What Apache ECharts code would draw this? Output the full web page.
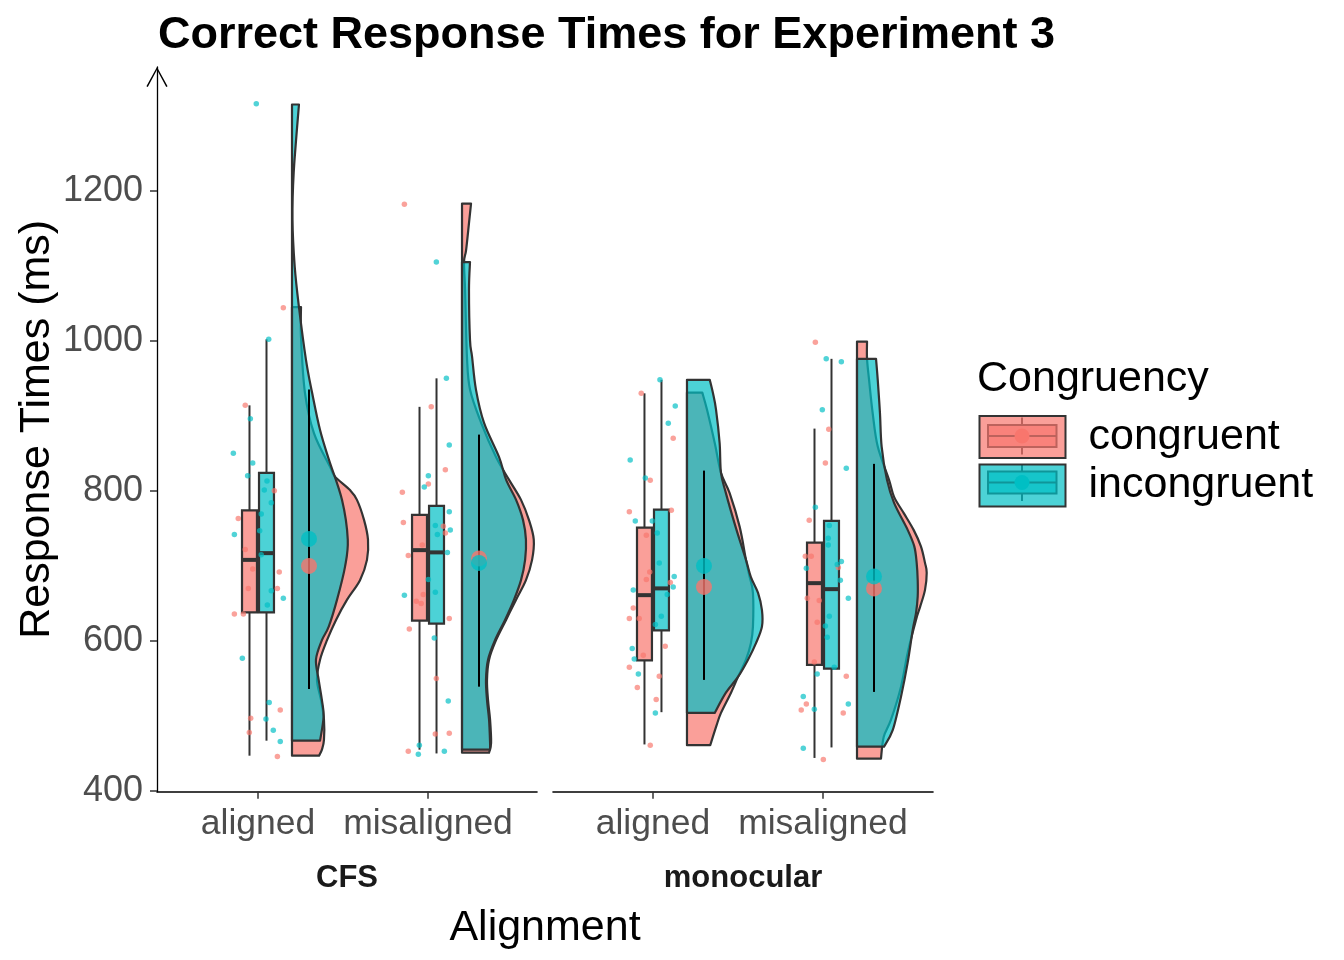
<!DOCTYPE html>
<html><head><meta charset="utf-8">
<script src="https://cdn.jsdelivr.net/npm/echarts@6/dist/echarts.min.js"></script>
<style>html,body{margin:0;padding:0;background:#fff}#c{width:1344px;height:960px}</style>
</head><body><div id="c"></div>
<script>
// ---------------- data ----------------
const facets = ['CFS', 'monocular'];
const alignments = ['aligned', 'misaligned'];
const conditions = ['congruent', 'incongruent'];
const yTicks = [400, 600, 800, 1000, 1200];
// groups: CFS-aligned, CFS-misaligned, monocular-aligned, monocular-misaligned
const groupFacet = [0, 0, 1, 1];
const groupAlign = [1, 2, 1, 2];

// box stats [lower whisker, q1, median, q3, upper whisker]
const congruentBox = [[447, 638, 708, 774, 914], [455, 627, 721, 768, 912], [462, 574, 661, 751, 930], [444, 568, 677, 731, 883]];
const incongruentBox = [[467, 638, 717, 824, 1002], [450, 623, 718, 780, 950], [505, 614, 670, 775, 948], [458, 563, 669, 760, 976]];

const congruentMean = [700, 710, 672, 670];
const incongruentMean = [736, 704, 700, 686];
const rangeLow = [536, 539, 548, 532];
const rangeHigh = [935, 875, 827, 836];

// half-violin density profiles [value, density width in x units]
const congruentViolin = [
  [[1045,0.053],[1005,0.053],[931,0.076],[877,0.129],[832,0.224],[819,0.253],[801,0.341],[788,0.382],[761,0.424],[735,0.447],[708,0.441],[681,0.4],[655,0.324],[628,0.259],[601,0.206],[575,0.165],[548,0.147],[521,0.171],[495,0.188],[468,0.188],[455,0.176],[447,0.159]],
  [[1183,0.053],[1157,0.041],[1121,0.024],[1105,0.012],[1068,0.018],[979,0.029],[935,0.047],[891,0.112],[845,0.2],[815,0.276],[788,0.347],[761,0.394],[735,0.422],[708,0.412],[681,0.376],[655,0.318],[628,0.259],[601,0.2],[575,0.159],[548,0.147],[521,0.153],[495,0.165],[464,0.171],[451,0.159]],
  [[931,0.09],[908,0.118],[864,0.163],[824,0.2],[797,0.251],[752,0.31],[708,0.347],[685,0.369],[664,0.388],[619,0.388],[597,0.376],[575,0.347],[552,0.3],[531,0.259],[504,0.2],[486,0.172],[461,0.137]],
  [[999,0.059],[976,0.059],[948,0.071],[904,0.092],[859,0.122],[815,0.188],[792,0.218],[770,0.276],[748,0.333],[726,0.376],[704,0.4],[691,0.41],[668,0.4],[646,0.372],[628,0.347],[584,0.298],[539,0.259],[495,0.2],[472,0.157],[443,0.141]]
];
const incongruentViolin = [
  [[1315,0.041],[1224,0.01],[1161,0.003],[1099,0.016],[1045,0.041],[975,0.082],[931,0.118],[881,0.165],[841,0.218],[788,0.294],[735,0.328],[699,0.312],[655,0.265],[619,0.216],[601,0.176],[575,0.141],[548,0.157],[521,0.176],[499,0.186],[467,0.165]],
  [[1105,0.047],[1068,0.041],[1001,0.047],[979,0.059],[935,0.082],[891,0.129],[845,0.218],[815,0.259],[788,0.318],[761,0.359],[735,0.376],[708,0.371],[681,0.347],[655,0.306],[628,0.253],[601,0.194],[575,0.153],[548,0.141],[521,0.147],[495,0.159],[464,0.165],[455,0.165]],
  [[948,0.134],[930,0.153],[908,0.171],[864,0.192],[824,0.2],[797,0.229],[752,0.286],[708,0.347],[685,0.376],[664,0.418],[641,0.441],[619,0.441],[597,0.406],[575,0.359],[552,0.3],[531,0.229],[504,0.163]],
  [[976,0.112],[948,0.122],[904,0.135],[859,0.145],[815,0.176],[784,0.218],[748,0.298],[726,0.337],[704,0.351],[681,0.357],[659,0.357],[637,0.347],[615,0.328],[571,0.298],[526,0.259],[481,0.21],[459,0.159]]
];

// jittered raw points [x offset from category, value]
const congruentPoints = [
  [[0.149,1044],[-0.075,914],[0.096,800],[-0.116,763],[-0.075,722],[-0.031,696],[0.125,692],[-0.057,670],[0.114,670],[-0.139,636],[-0.086,636],[0.131,508],[-0.043,497],[-0.051,478],[0.114,446]],
  [[-0.139,1182],[0.019,912],[0.102,828],[0.002,809],[-0.151,798],[-0.145,758],[0.09,753],[0.102,744],[-0.034,728],[-0.116,714],[-0.028,662],[-0.069,653],[-0.04,650],[0.125,630],[-0.11,616],[0.049,550],[0.043,476],[0.125,477],[-0.116,453]],
  [[-0.069,930],[0.119,870],[-0.016,814],[-0.139,772],[0.108,774],[-0.039,741],[-0.019,692],[-0.039,682],[0.102,678],[-0.116,644],[-0.139,630],[-0.081,630],[0.072,593],[-0.057,581],[-0.139,565],[0.037,553],[-0.092,538],[0.019,522],[-0.016,461]],
  [[-0.045,998],[0.034,882],[0.014,837],[-0.081,761],[-0.104,713],[-0.069,713],[0.09,698],[-0.092,657],[-0.022,654],[-0.034,625],[-0.051,572],[0.137,553],[-0.098,516],[-0.128,508],[0.119,504],[0.002,442]]
];
const incongruentPoints = [
  [[-0.01,1316],[0.063,1002],[-0.045,896],[-0.145,850],[-0.031,837],[-0.061,820],[0.053,813],[0.037,801],[0.078,784],[0.019,769],[0.01,747],[-0.139,742],[0.019,715],[0.078,667],[0.149,657],[0.055,648],[-0.092,577],[0.066,518],[0.047,496],[0.09,481],[0.131,466]],
  [[0.049,1105],[0.108,950],[0.125,861],[0.002,820],[-0.022,805],[0.125,772],[0.043,754],[0.131,748],[0.055,742],[0.114,718],[0.002,682],[-0.139,661],[0.043,665],[0.037,604],[0.119,520],[-0.051,461],[-0.057,449],[0.096,453]],
  [[0.041,948],[0.131,913],[0.09,890],[-0.134,841],[-0.045,817],[-0.104,760],[-0.004,760],[0.025,744],[0.037,704],[0.125,686],[0.119,672],[-0.116,668],[0.084,662],[0.049,633],[0.014,622],[-0.122,590],[-0.11,576],[-0.086,556],[0.014,504]],
  [[0.019,976],[0.108,972],[-0.004,908],[0.137,830],[-0.045,778],[0.037,754],[0.031,737],[0.031,728],[0.108,706],[-0.098,697],[0.084,702],[0.102,681],[0.149,657],[0.037,633],[0.014,620],[0.025,605],[0.066,565],[-0.034,556],[-0.116,526],[-0.051,509],[0.149,516],[-0.116,457]]
];

// ---------------- style ----------------
const FONT = "'Liberation Sans', Arial, Helvetica, sans-serif";
const RED = '#F8766D', TEAL = '#00BFC4';
const RED_A = 'rgba(248,118,109,0.7)', TEAL_A = 'rgba(0,191,196,0.7)';
const RED_P = 'rgba(248,118,109,0.85)', TEAL_P = 'rgba(0,191,196,0.85)';
const OUT = '#333333';
const violinNudge = 0.2, meanNudge = 0.3, boxHalf = 0.044;
const boxOffset = [-0.05, 0.05];

function facetData(fi, fn) {
  const out = [];
  groupFacet.forEach((f, gi) => { if (f === fi) out.push(fn(gi, groupAlign[gi])); });
  return out;
}

function smoothPath(pts) {
  // Catmull-Rom through pts -> cubic bezier commands (rendering only)
  let d = '';
  for (let i = 0; i < pts.length - 1; i++) {
    const p0 = pts[Math.max(0, i - 1)], p1 = pts[i], p2 = pts[i + 1], p3 = pts[Math.min(pts.length - 1, i + 2)];
    const c1 = [p1[0] + (p2[0] - p0[0]) / 6, p1[1] + (p2[1] - p0[1]) / 6];
    const c2 = [p2[0] - (p3[0] - p1[0]) / 6, p2[1] - (p3[1] - p1[1]) / 6];
    d += ` C${c1[0]},${c1[1]} ${c2[0]},${c2[1]} ${p2[0]},${p2[1]}`;
  }
  return d;
}

function violinRender(profiles, fill) {
  return function (params, api) {
    const xc = api.value(0), gi = api.value(2);
    const prof = profiles[gi];
    const base = xc + violinNudge;
    const top = api.coord([base, prof[0][0]]);
    const bot = api.coord([base, prof[prof.length - 1][0]]);
    const pts = prof.map(p => api.coord([base + p[1], p[0]]));
    const d = `M${top[0]},${top[1]} L${pts[0][0]},${pts[0][1]}` + smoothPath(pts) + ` L${bot[0]},${bot[1]} Z`;
    return { type: 'path', shape: { pathData: d }, style: { fill: fill, stroke: OUT, lineWidth: 2.2, lineJoin: 'round' } };
  };
}

function boxRender(stats, off, fill) {
  return function (params, api) {
    const xc = api.value(0), gi = api.value(2);
    const s = stats[gi];
    const cx = xc + off;
    const pLo = api.coord([cx, s[0]]), pQ1 = api.coord([cx, s[1]]), pQ3 = api.coord([cx, s[3]]), pHi = api.coord([cx, s[4]]);
    const a = api.coord([cx - boxHalf, s[3]]), b = api.coord([cx + boxHalf, s[1]]);
    const m = api.coord([cx - boxHalf, s[2]]), n = api.coord([cx + boxHalf, s[2]]);
    return { type: 'group', children: [
      { type: 'line', shape: { x1: pLo[0], y1: pLo[1], x2: pQ1[0], y2: pQ1[1] }, style: { stroke: OUT, lineWidth: 2 } },
      { type: 'line', shape: { x1: pQ3[0], y1: pQ3[1], x2: pHi[0], y2: pHi[1] }, style: { stroke: OUT, lineWidth: 2 } },
      { type: 'rect', shape: { x: a[0], y: a[1], width: b[0] - a[0], height: b[1] - a[1] }, style: { fill: fill, stroke: OUT, lineWidth: 2.2 } },
      { type: 'line', shape: { x1: m[0], y1: m[1], x2: n[0], y2: n[1] }, style: { stroke: OUT, lineWidth: 4 } }
    ] };
  };
}

function rangeRender(params, api) {
  const x = api.value(0) + meanNudge;
  const p1 = api.coord([x, api.value(1)]), p2 = api.coord([x, api.value(2)]);
  return { type: 'line', shape: { x1: p1[0], y1: p1[1], x2: p2[0], y2: p2[1] }, style: { stroke: '#000', lineWidth: 2 } };
}

const series = [];
[0, 1].forEach(fi => {
  const ax = { xAxisIndex: fi, yAxisIndex: fi };
  series.push(Object.assign({ type: 'custom', name: 'congruent', renderItem: violinRender(congruentViolin, RED_A), itemStyle: { color: RED_A },
    data: facetData(fi, (gi, xc) => [xc, congruentMean[gi], gi]), encode: { x: 0, y: 1 }, z: 2 }, ax));
  series.push(Object.assign({ type: 'custom', name: 'incongruent', renderItem: violinRender(incongruentViolin, TEAL_A), itemStyle: { color: TEAL_A },
    data: facetData(fi, (gi, xc) => [xc, incongruentMean[gi], gi]), encode: { x: 0, y: 1 }, z: 2 }, ax));
  series.push(Object.assign({ type: 'custom', name: 'congruent', renderItem: boxRender(congruentBox, boxOffset[0], RED_A), itemStyle: { color: RED_A },
    data: facetData(fi, (gi, xc) => [xc, congruentBox[gi][2], gi]), encode: { x: 0, y: 1 }, z: 3 }, ax));
  series.push(Object.assign({ type: 'custom', name: 'incongruent', renderItem: boxRender(incongruentBox, boxOffset[1], TEAL_A), itemStyle: { color: TEAL_A },
    data: facetData(fi, (gi, xc) => [xc, incongruentBox[gi][2], gi]), encode: { x: 0, y: 1 }, z: 3 }, ax));
  series.push(Object.assign({ type: 'scatter', name: 'congruent', symbol: 'circle', symbolSize: 5.5, itemStyle: { color: RED_P }, z: 4,
    data: [].concat(...facetData(fi, (gi, xc) => congruentPoints[gi].map(p => [xc + p[0], p[1]]))) }, ax));
  series.push(Object.assign({ type: 'scatter', name: 'incongruent', symbol: 'circle', symbolSize: 5.5, itemStyle: { color: TEAL_P }, z: 4,
    data: [].concat(...facetData(fi, (gi, xc) => incongruentPoints[gi].map(p => [xc + p[0], p[1]]))) }, ax));
  series.push(Object.assign({ type: 'custom', name: 'range', renderItem: rangeRender,
    data: facetData(fi, (gi, xc) => [xc, rangeLow[gi], rangeHigh[gi]]), encode: { x: 0, y: [1, 2] }, z: 5 }, ax));
  series.push(Object.assign({ type: 'scatter', name: 'congruent', symbol: 'circle', symbolSize: 16, itemStyle: { color: RED }, z: 6,
    data: facetData(fi, (gi, xc) => [xc + meanNudge, congruentMean[gi]]) }, ax));
  series.push(Object.assign({ type: 'scatter', name: 'incongruent', symbol: 'circle', symbolSize: 16, itemStyle: { color: TEAL }, z: 7,
    data: facetData(fi, (gi, xc) => [xc + meanNudge, incongruentMean[gi]]) }, ax));
});

const xMins = [0.406, 0.412];
const xAxis = [0, 1].map(fi => ({
  gridIndex: fi, type: 'value', min: xMins[fi], max: xMins[fi] + 2.235,
  splitLine: { show: false },
  axisLine: { show: true, onZero: false, lineStyle: { color: '#000', width: 1.6 } },
  axisTick: { show: true, customValues: [1, 2], length: 7, lineStyle: { color: OUT, width: 1.5 } },
  axisLabel: { customValues: [1, 2], formatter: v => alignments[Math.round(v) - 1], fontSize: 35.5, color: '#4D4D4D', margin: 15, fontFamily: FONT },
  name: facets[fi], nameLocation: 'middle', nameGap: 71.5,
  nameTextStyle: { fontSize: 31, fontWeight: 'bold', color: '#1A1A1A', fontFamily: FONT, lineHeight: 31 }
}));

const yAxis = [
  { gridIndex: 0, type: 'value', min: 399, max: 1365, splitLine: { show: false },
    axisLine: { show: true, onZero: false, lineStyle: { color: '#000', width: 1.3 },
      symbol: ['none', 'path://M0,20 L11,0 L22,20 L20.6,20.8 L11,2.8 L1.4,20.8 Z'], symbolSize: [22, 20], symbolOffset: [0, -10] },
    axisTick: { show: true, customValues: yTicks, length: 7, lineStyle: { color: OUT, width: 1.5 } },
    axisLabel: { customValues: yTicks, formatter: v => String(v), fontSize: 36, color: '#4D4D4D', margin: 14, fontFamily: FONT },
    name: 'Response Times (ms)', nameLocation: 'middle', nameGap: 97, nameRotate: 90,
    nameTextStyle: { fontSize: 43, color: '#000', fontFamily: FONT, lineHeight: 43 } },
  { gridIndex: 1, type: 'value', min: 399, max: 1365, show: false }
];

function legendGlyph(top, fill, dot) {
  const cy = top + 21, cx = 1022;
  return { type: 'group', silent: true, children: [
    { type: 'line', shape: { x1: cx, y1: cy - 18.5, x2: cx, y2: cy - 11 }, style: { stroke: OUT, lineWidth: 2 } },
    { type: 'line', shape: { x1: cx, y1: cy + 11, x2: cx, y2: cy + 18.5 }, style: { stroke: OUT, lineWidth: 2 } },
    { type: 'rect', shape: { x: 988, y: cy - 11, width: 68.5, height: 22 }, style: { fill: fill, stroke: OUT, lineWidth: 2 } },
    { type: 'line', shape: { x1: 988, y1: cy, x2: 1056.5, y2: cy }, style: { stroke: OUT, lineWidth: 2 } },
    { type: 'circle', shape: { cx: cx, cy: cy, r: 7.5 }, style: { fill: dot } }
  ] };
}

const option = {
  animation: false,
  backgroundColor: '#fff',
  textStyle: { fontFamily: FONT },
  title: [
    { text: 'Correct Response Times for Experiment 3', left: 158, top: 13, padding: 0,
      textStyle: { fontSize: 45, fontWeight: 'bold', color: '#000', fontFamily: FONT, lineHeight: 45 } },
    { text: 'Congruency', left: 977, top: 358, padding: 0,
      textStyle: { fontSize: 43, fontWeight: 'normal', color: '#000', fontFamily: FONT, lineHeight: 43 } }
  ],
  grid: [
    { left: 157, top: 67, width: 380, height: 724.7, outerBoundsMode: 'none' },
    { left: 553, top: 67, width: 380, height: 724.7, outerBoundsMode: 'none' }
  ],
  xAxis: xAxis,
  yAxis: yAxis,
  legend: {
    orient: 'vertical', left: 978.5, top: 415, padding: 0, itemWidth: 86, itemHeight: 42, itemGap: 4.5,
    icon: 'rect', selectedMode: false,
    itemStyle: { borderColor: OUT, borderWidth: 2 },
    textStyle: { fontSize: 43, color: '#000', fontFamily: FONT, lineHeight: 40, padding: [0, 0, 0, 18] },
    data: [
      { name: conditions[0], itemStyle: { color: RED_A, borderColor: OUT, borderWidth: 2 } },
      { name: conditions[1], itemStyle: { color: TEAL_A, borderColor: OUT, borderWidth: 2 } }
    ]
  },
  graphic: [
    { type: 'text', x: 545, y: 928, silent: true,
      style: { text: 'Alignment', fontSize: 43, fontFamily: FONT, fill: '#000', align: 'center', verticalAlign: 'middle', textAlign: 'center', textVerticalAlign: 'middle' } },
    legendGlyph(415, RED_A, RED),
    legendGlyph(461.5, TEAL_A, TEAL)
  ],
  series: series
};

const chart = echarts.init(document.getElementById('c'), null, { renderer: 'canvas' });
chart.setOption(option);
</script>
</body></html>
